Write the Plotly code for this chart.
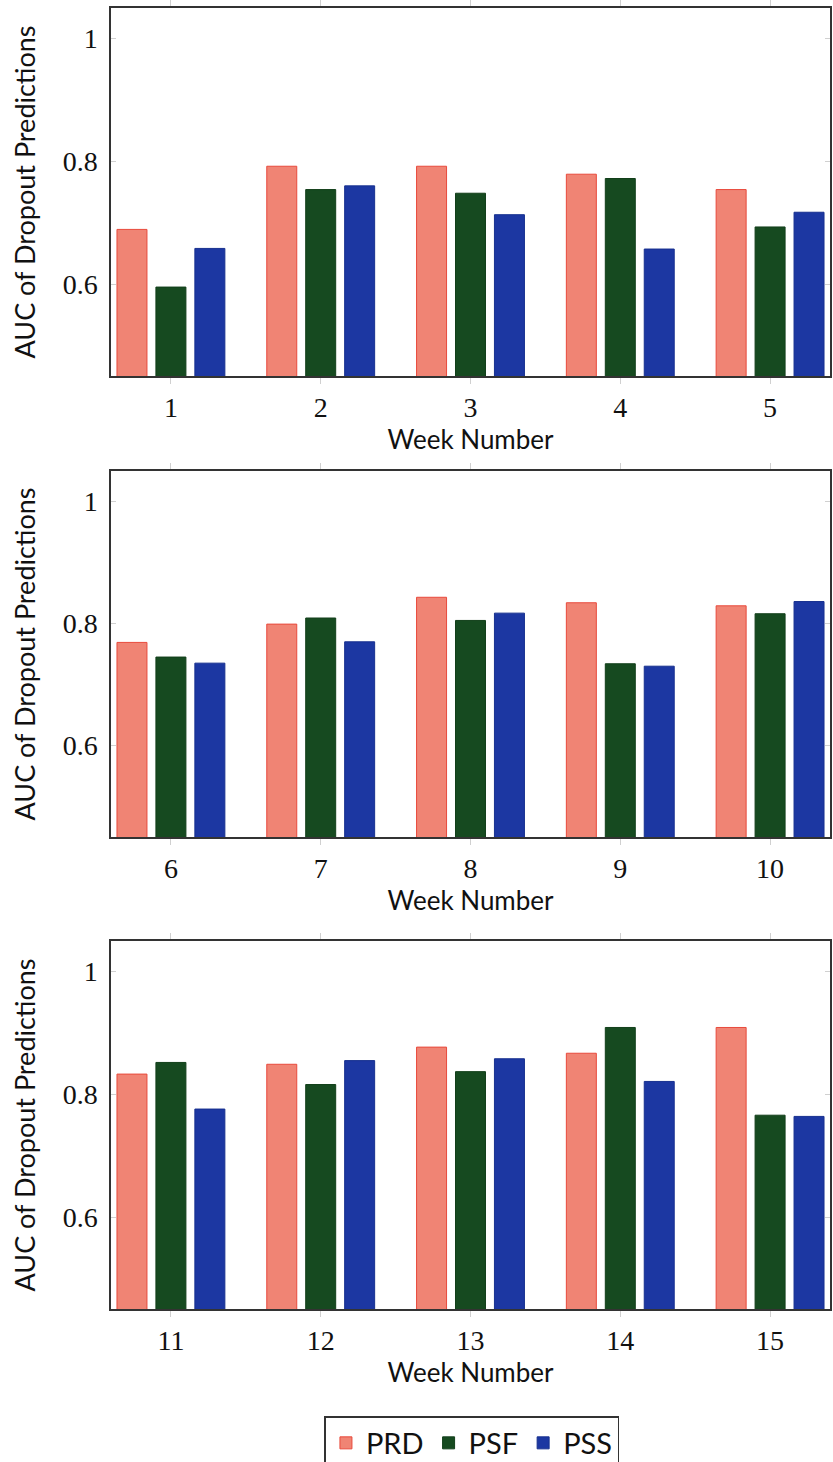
import plotly.graph_objects as go

weeks_1 = [1, 2, 3, 4, 5]
weeks_2 = [6, 7, 8, 9, 10]
weeks_3 = [11, 12, 13, 14, 15]

prd_1 = [0.689, 0.792, 0.792, 0.779, 0.754]
psf_1 = [0.595, 0.754, 0.748, 0.772, 0.693]
pss_1 = [0.658, 0.760, 0.713, 0.657, 0.717]

prd_2 = [0.769, 0.799, 0.843, 0.834, 0.829]
psf_2 = [0.745, 0.809, 0.805, 0.734, 0.816]
pss_2 = [0.735, 0.770, 0.817, 0.730, 0.836]

prd_3 = [0.833, 0.849, 0.877, 0.867, 0.909]
psf_3 = [0.852, 0.816, 0.837, 0.909, 0.766]
pss_3 = [0.776, 0.855, 0.858, 0.821, 0.764]

series_names = ["PRD", "PSF", "PSS"]
y_ticks = [0.6, 0.8, 1.0]
y_tick_text = ["0.6", "0.8", "1"]

fills = ["#F08474", "#164A20", "#1C37A2"]
lines = ["#E84A3C", "#123F1A", "#17308F"]

panels = [
    (weeks_1, [prd_1, psf_1, pss_1]),
    (weeks_2, [prd_2, psf_2, pss_2]),
    (weeks_3, [prd_3, psf_3, pss_3]),
]

H = 1500  # figure is a little taller than the 1462 window; the legend box runs off the bottom as in the reference
W = 833
L = 111
R = 3
def frac(px):
    return 1 - px / H

domains = [(frac(376), frac(8)), (frac(837), frac(471)), (frac(1309), frac(941))]

fig = go.Figure()
serif = "Liberation Serif"
sans = "Lato"

for i, (weeks, vals) in enumerate(panels):
    xa = "x" if i == 0 else f"x{i+1}"
    ya = "y" if i == 0 else f"y{i+1}"
    for j, name in enumerate(series_names):
        fig.add_trace(go.Bar(
            x=weeks, y=vals[j], name=name,
            xaxis=xa, yaxis=ya,
            marker=dict(color=fills[j], line=dict(color=lines[j], width=1)),
            showlegend=(i == 0),
            base=0,
        ))
    axkey = "" if i == 0 else str(i + 1)
    fig.update_layout(**{
        f"xaxis{axkey}": dict(
            domain=[0, 1], anchor=ya, range=[weeks[0] - 0.4, weeks[-1] + 0.4],
            tickvals=weeks, ticktext=[str(w) for w in weeks],
            showline=True, linecolor="#333333", linewidth=1.5, mirror="ticks",
            ticks="outside", ticklen=6, tickcolor="#d0d0d0",
            showgrid=False, zeroline=False, ticklabelstandoff=0,
            tickfont=dict(family=serif, size=28, color="#111111"),
            title=dict(text="Week Number", font=dict(family=sans, size=26, color="#111111"), standoff=7),
        ),
        f"yaxis{axkey}": dict(
            domain=list(domains[i]), anchor=xa, range=[0.45, 1.05],
            tickvals=y_ticks, ticktext=y_tick_text,
            showline=True, linecolor="#333333", linewidth=1.5, mirror="ticks",
            ticks="inside", ticklen=5, tickcolor="#d0d0d0",
            showgrid=False, zeroline=False, ticklabelstandoff=6,
            tickfont=dict(family=serif, size=28, color="#111111"),
            title=dict(text="AUC of Dropout Predictions", font=dict(family=sans, size=27, color="#111111"), standoff=19),
        ),
    })

fig.update_layout(
    width=W, height=H,
    margin=dict(l=L, r=R, t=0, b=0),
    plot_bgcolor="white", paper_bgcolor="white",
    barmode="group", bargap=0.22, bargroupgap=0.23,
    legend=dict(
        orientation="h", x=0.502, xanchor="center", y=frac(1416), yanchor="top",
        bordercolor="#333333", borderwidth=1.5, bgcolor="white",
        font=dict(family=sans, size=29, color="#111111"),
        itemwidth=30, tracegroupgap=0,
    ),
    showlegend=True,
)

fig.write_html(
    "out.html",
    config={"displayModeBar": False},
    post_script="document.body.style.margin='0px';document.body.style.overflow='hidden';",
)
